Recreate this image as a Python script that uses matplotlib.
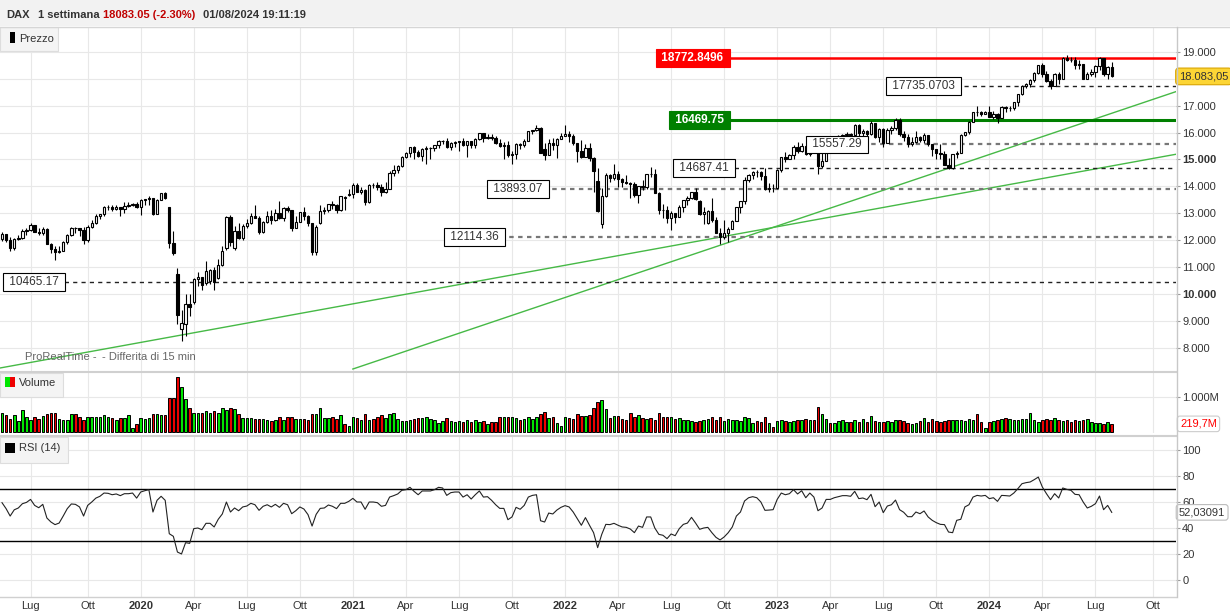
import numpy as np
import matplotlib
matplotlib.use("Agg")
import matplotlib.pyplot as plt
from matplotlib.patches import Rectangle
from matplotlib.lines import Line2D

plt.rcParams["font.family"] = ["Liberation Sans", "DejaVu Sans"]

# --- Data: DAX weekly bars, first bar = week starting Mon 13 May 2019 ---
FIRST_MONDAY = np.datetime64("2019-05-13")

opens = [
    12059, 12238, 12011, 11727, 12045, 12096, 12340, 12399, 12568, 12323,
    12260, 12419, 11872, 11693, 11563, 11612, 11939, 12191, 12469, 12468,
    12381, 12013, 12512, 12634, 12895, 12961, 13229, 13242, 13164, 13236,
    13167, 13283, 13319, 13337, 13219, 13483, 13526, 13577, 12982, 13514,
    13745, 13230, 11900, 10740, 8700, 8900, 9633, 9700, 10565, 10626,
    10400, 10500, 10904, 10600, 11074, 11700, 12848, 11700, 12331, 12089,
    12528, 12633, 12920, 12838, 12313, 12675, 12901, 12765, 13033, 12843,
    13203, 13116, 12469, 12689, 13051, 12909, 12646, 11556, 12650, 13077,
    13137, 13335, 13298, 13114, 13600, 13700, 13719, 14050, 13788, 13874,
    13433, 14057, 14050, 13993, 13786, 13921, 14502, 14621, 14749, 15107,
    15234, 15460, 15280, 15136, 15400, 15417, 15438, 15520, 15693, 15693,
    15448, 15608, 15650, 15688, 15540, 15670, 15544, 15761, 15977, 15808,
    15852, 15781, 15609, 15490, 15531, 15156, 15206, 15587, 15543, 15688,
    16054, 16094, 16160, 15400, 15169, 15623, 15532, 15756, 15885, 15948,
    15883, 15603, 15318, 15100, 15425, 15043, 14200, 12600, 13628, 14413,
    14306, 14446, 14284, 14163, 14143, 14098, 13675, 14027, 13982, 14462,
    14460, 13762, 13127, 13118, 12813, 13015, 12864, 13254, 13484, 13574,
    13795, 13450, 12971, 12640, 13088, 12741, 12284, 12114, 12273, 12438,
    12731, 13243, 13460, 14225, 14432, 14541, 14529, 14371, 13894, 13941,
    13924, 14610, 15087, 15034, 15150, 15476, 15307, 15482, 15210, 15578,
    15250, 14768, 14957, 15629, 15598, 15808, 15882, 15922, 15961, 15914,
    16275, 15984, 16051, 15950, 16358, 15830, 16148, 15603, 16106, 16177,
    16470, 15952, 15832, 15575, 15632, 15840, 15740, 15894, 15557, 15387,
    15230, 15187, 14798, 14688, 15189, 15234, 15919, 16029, 16398, 16759,
    16751, 16706, 16752, 16594, 16705, 16555, 16961, 16918, 16927, 17117,
    17419, 17735, 17815, 17936, 18206, 18492, 18175, 17930, 17737, 18161,
    18001, 18773, 18704, 18693, 18498, 18557, 18002, 18164, 18235, 18475,
    18748, 18172, 18418,
]
highs = [
    12300, 12242, 12110, 12080, 12180, 12410, 12440, 12630, 12580, 12440,
    12480, 12440, 11900, 11800, 11790, 11990, 12220, 12480, 12480, 12470,
    12490, 12560, 12750, 12960, 12990, 13290, 13300, 13320, 13300, 13240,
    13420, 13430, 13380, 13420, 13520, 13530, 13640, 13580, 13530, 13760,
    13800, 13230, 12340, 10980, 9400, 10000, 10010, 10610, 10820, 10650,
    11230, 10950, 11000, 11300, 11780, 12910, 12950, 12530, 12650, 12600,
    12810, 13010, 13310, 12890, 12720, 13080, 13110, 13150, 13460, 13240,
    13290, 13120, 12900, 13060, 13250, 12940, 12650, 12560, 13300, 13230,
    13360, 13460, 13360, 13650, 13640, 13900, 14140, 14130, 13990, 13900,
    14100, 14120, 14170, 14100, 14160, 14570, 14800, 14790, 15130, 15270,
    15470, 15500, 15360, 15410, 15500, 15460, 15530, 15730, 15740, 15800,
    15650, 15700, 15700, 15810, 15700, 15680, 15810, 15980, 15990, 15950,
    15950, 15880, 15750, 15650, 15680, 15300, 15600, 15630, 15760, 16070,
    16100, 16290, 16200, 15600, 15760, 15800, 15780, 15980, 16290, 16050,
    15960, 15620, 15740, 15560, 15600, 15080, 14700, 13940, 14500, 14480,
    14820, 14560, 14300, 14430, 14150, 14180, 14030, 14250, 14480, 14710,
    14660, 13780, 13340, 13280, 13100, 13030, 13320, 13500, 13660, 13800,
    13950, 13480, 13250, 13140, 13560, 12850, 12470, 12740, 12500, 12770,
    13250, 13460, 14340, 14450, 14560, 14600, 14560, 14680, 14140, 14100,
    14650, 15100, 15270, 15190, 15530, 15660, 15600, 15550, 15620, 15710,
    15300, 15260, 15660, 15720, 15830, 15920, 15930, 16010, 16000, 16330,
    16300, 16120, 16110, 16430, 16360, 16160, 16170, 16160, 16230, 16530,
    16530, 16060, 15950, 15830, 16040, 15880, 15990, 15900, 15580, 15390,
    15580, 15320, 15050, 15200, 15300, 15960, 16030, 16420, 16770, 17000,
    16800, 16800, 16970, 16800, 16730, 16970, 17000, 17000, 17150, 17440,
    17750, 17840, 18000, 18230, 18500, 18570, 18300, 18000, 18200, 18240,
    18790, 18890, 18800, 18790, 18680, 18560, 18230, 18360, 18510, 18790,
    18770, 18460, 18600,
]
lows = [
    11958, 11954, 11620, 11656, 12010, 12060, 12200, 12330, 12300, 12190,
    12210, 11850, 11520, 11266, 11540, 11600, 11850, 12150, 12280, 12150,
    11860, 11930, 12450, 12600, 12800, 12900, 13120, 13080, 13140, 12900,
    13020, 13220, 13270, 13200, 12950, 13320, 13300, 12950, 12960, 13480,
    13530, 11720, 11450, 8900, 8255, 8440, 9200, 9650, 10300, 10160,
    10350, 10380, 10160, 10580, 11050, 11650, 11800, 11650, 12060, 12000,
    12450, 12600, 12830, 12250, 12260, 12640, 12620, 12730, 12800, 12720,
    13050, 12340, 12450, 12680, 12750, 12530, 11450, 11450, 12620, 12960,
    13040, 13180, 13030, 13100, 13140, 13660, 13570, 13780, 13710, 13310,
    13400, 13940, 13870, 13660, 13760, 13900, 14400, 14500, 14710, 15070,
    15100, 15000, 15100, 14960, 14820, 15030, 15330, 15420, 15580, 15430,
    15350, 15450, 15310, 15500, 15080, 15420, 15440, 15710, 15650, 15770,
    15710, 15560, 15450, 15030, 15080, 14820, 15010, 15400, 15470, 15680,
    15950, 16040, 15250, 14980, 15150, 15360, 15060, 15750, 15880, 15650,
    15530, 14900, 15050, 15080, 14950, 13810, 13050, 12440, 13600, 14150,
    14250, 13970, 13980, 14080, 13570, 13620, 13380, 13870, 13920, 14340,
    13740, 12960, 12840, 12660, 12390, 12630, 12850, 13050, 13300, 13520,
    13490, 12950, 12620, 12600, 12680, 12270, 11862, 12050, 11940, 12430,
    12720, 13030, 13360, 14170, 14280, 14340, 14250, 13870, 13790, 13790,
    13900, 14540, 14900, 15000, 15000, 15250, 15280, 15180, 15140, 15400,
    14460, 14690, 14950, 15500, 15590, 15750, 15710, 15630, 15800, 15860,
    15710, 15630, 15870, 15900, 15810, 15660, 15450, 15600, 15960, 16100,
    15860, 15700, 15470, 15510, 15610, 15640, 15600, 15510, 15120, 15000,
    15030, 14780, 14630, 14650, 15040, 15230, 15860, 15960, 16390, 16600,
    16620, 16690, 16560, 16500, 16350, 16540, 16780, 16800, 16830, 17000,
    17380, 17660, 17700, 17880, 18180, 18050, 17890, 17630, 17720, 17800,
    18000, 18640, 18600, 18350, 18340, 17990, 18000, 18100, 18060, 18330,
    18100, 18000, 18050,
]
closes = [
    12238, 12011, 11727, 12045, 12096, 12340, 12399, 12568, 12323, 12260,
    12419, 11872, 11693, 11563, 11612, 11939, 12191, 12469, 12468, 12381,
    12013, 12512, 12634, 12895, 12961, 13229, 13242, 13164, 13236, 13167,
    13283, 13319, 13337, 13219, 13483, 13526, 13577, 12982, 13514, 13745,
    13579, 11890, 11542, 9232, 8929, 9633, 9525, 10565, 10626, 10336,
    10862, 10904, 10465, 11074, 11587, 12848, 11949, 12331, 12089, 12528,
    12633, 12920, 12838, 12313, 12675, 12901, 12765, 13033, 12843, 13203,
    13116, 12469, 12689, 13051, 12909, 12646, 11556, 12480, 13077, 13137,
    13335, 13298, 13114, 13631, 13587, 13719, 14050, 13788, 13874, 13433,
    14057, 14050, 13993, 13786, 13921, 14502, 14621, 14749, 15107, 15234,
    15460, 15280, 15136, 15400, 15417, 15438, 15520, 15693, 15693, 15448,
    15608, 15650, 15688, 15540, 15670, 15544, 15761, 15977, 15808, 15852,
    15781, 15609, 15490, 15531, 15156, 15206, 15587, 15543, 15688, 16054,
    16094, 16160, 15257, 15169, 15623, 15532, 15756, 15885, 15948, 15883,
    15603, 15318, 15100, 15425, 15043, 14567, 13095, 13628, 14413, 14306,
    14446, 14284, 14163, 14143, 14098, 13675, 14027, 13982, 14462, 14460,
    13762, 13127, 13118, 12813, 13015, 12864, 13254, 13484, 13574, 13795,
    13544, 12971, 13050, 13088, 12741, 12284, 12114, 12273, 12438, 12731,
    13243, 13460, 14225, 14432, 14541, 14529, 14371, 13894, 13941, 13924,
    14610, 15087, 15034, 15150, 15476, 15307, 15482, 15210, 15578, 15428,
    14768, 14957, 15629, 15598, 15808, 15882, 15922, 15961, 15914, 16275,
    15984, 16051, 15950, 16358, 15830, 16148, 15603, 16106, 16177, 16470,
    15952, 15832, 15575, 15632, 15840, 15740, 15894, 15557, 15387, 15230,
    15187, 14798, 14688, 15189, 15234, 15919, 16029, 16398, 16759, 16751,
    16706, 16752, 16594, 16705, 16555, 16961, 16918, 16927, 17117, 17419,
    17735, 17815, 17936, 18206, 18492, 18175, 17930, 17737, 18161, 18001,
    18773, 18704, 18693, 18498, 18557, 18002, 18164, 18235, 18475, 18748,
    18172, 18418, 18083,
]
# weekly volume, millions
volumes = [
    544, 466, 369, 466, 291, 631, 427, 340, 427, 369,
    437, 495, 544, 544, 369, 340, 340, 495, 495, 408,
    340, 427, 427, 408, 427, 485, 427, 398, 340, 398,
    398, 466, 107, 204, 398, 369, 398, 495, 495, 466,
    466, 951, 951, 1563, 1272, 922, 689, 534, 534, 544,
    583, 544, 602, 544, 689, 631, 689, 660, 495, 398,
    398, 398, 369, 369, 369, 340, 291, 320, 427, 340,
    427, 427, 369, 369, 350, 340, 515, 495, 689, 398,
    398, 427, 369, 485, 223, 146, 427, 398, 340, 515,
    340, 369, 427, 476, 398, 495, 544, 369, 291, 291,
    320, 350, 379, 379, 408, 350, 320, 233, 291, 379,
    291, 262, 291, 262, 320, 262, 320, 262, 291, 204,
    262, 262, 408, 408, 408, 408, 379, 320, 350, 408,
    350, 408, 495, 553, 379, 408, 233, 146, 408, 379,
    350, 495, 437, 437, 466, 689, 835, 893, 660, 379,
    437, 437, 350, 320, 524, 408, 466, 379, 350, 379,
    320, 524, 408, 408, 408, 350, 379, 320, 320, 291,
    262, 291, 320, 350, 408, 320, 408, 291, 350, 320,
    320, 291, 408, 379, 233, 291, 262, 408, 233, 117,
    291, 320, 291, 262, 291, 320, 320, 350, 320, 320,
    699, 495, 350, 233, 233, 291, 320, 262, 262, 320,
    262, 350, 262, 437, 291, 262, 262, 291, 262, 320,
    320, 291, 233, 204, 233, 291, 379, 262, 350, 291,
    262, 291, 320, 320, 320, 320, 291, 350, 320, 495,
    262, 87, 262, 291, 320, 350, 379, 350, 320, 320,
    350, 350, 524, 320, 262, 320, 350, 320, 379, 320,
    291, 320, 262, 320, 291, 320, 350, 262, 233, 233,
    204, 262, 219.7,
]
rsi14 = [
    59.5, 54.9, 49.2, 54.0, 55.4, 58.7, 59.7, 62.0, 57.4, 55.6,
    58.2, 47.7, 44.6, 42.6, 43.8, 49.2, 54.9, 58.5, 58.2, 56.2,
    49.2, 57.4, 60.0, 63.0, 64.4, 66.9, 66.7, 65.6, 66.2, 64.9,
    66.4, 66.4, 66.9, 63.0, 67.7, 68.7, 69.5, 52.3, 61.3, 64.4,
    61.3, 35.6, 33.6, 21.5, 20.0, 28.7, 28.2, 39.5, 40.0, 38.7,
    43.6, 43.6, 40.8, 46.7, 50.8, 60.0, 52.3, 55.4, 53.3, 56.2,
    56.9, 59.0, 57.9, 53.6, 56.7, 57.9, 56.2, 58.2, 55.9, 59.0,
    57.9, 51.0, 53.3, 56.2, 54.6, 50.3, 41.5, 50.5, 55.1, 55.4,
    57.7, 56.7, 54.9, 59.0, 59.0, 60.5, 62.8, 60.0, 60.0, 54.4,
    60.0, 60.0, 59.5, 56.7, 57.4, 63.8, 64.9, 66.2, 69.0, 69.5,
    71.3, 68.2, 65.6, 68.5, 68.5, 68.5, 69.5, 71.3, 70.8, 65.1,
    67.2, 67.7, 67.7, 63.8, 65.6, 62.3, 65.6, 68.5, 63.8, 64.1,
    61.3, 57.9, 55.1, 55.1, 46.4, 48.5, 55.9, 54.4, 57.4, 63.8,
    65.1, 65.6, 45.6, 44.6, 51.5, 50.8, 53.8, 55.9, 57.2, 56.2,
    52.3, 47.2, 42.1, 48.0, 42.1, 36.4, 24.9, 35.1, 42.8, 42.6,
    43.6, 42.1, 40.8, 40.5, 39.2, 36.4, 41.5, 40.5, 48.5, 48.5,
    40.0, 35.1, 34.4, 31.8, 35.4, 34.1, 39.5, 42.8, 43.8, 48.2,
    43.8, 39.0, 40.0, 40.5, 36.4, 32.8, 30.8, 33.1, 36.4, 40.8,
    49.2, 52.3, 60.8, 63.3, 64.1, 63.3, 60.0, 53.6, 53.8, 54.1,
    62.0, 66.9, 65.6, 66.4, 69.5, 66.2, 68.7, 63.3, 66.9, 63.8,
    53.3, 55.4, 62.0, 62.0, 63.3, 64.1, 64.9, 64.9, 64.4, 68.2,
    62.6, 63.1, 61.8, 65.9, 56.4, 60.0, 51.8, 56.9, 57.9, 61.5,
    54.1, 52.1, 48.7, 48.7, 52.3, 51.0, 53.1, 48.5, 45.9, 44.1,
    42.8, 42.6, 36.9, 36.4, 45.9, 46.7, 56.2, 57.9, 63.8, 65.1,
    64.6, 65.1, 62.6, 63.3, 60.5, 65.1, 64.9, 64.6, 66.9, 70.3,
    74.1, 74.9, 75.4, 77.2, 79.2, 71.5, 66.4, 61.8, 66.4, 63.1,
    70.8, 69.7, 69.0, 65.9, 65.6, 60.0, 55.4, 56.7, 58.7, 64.6,
    54.1, 57.4, 52.03,
]

# horizontal levels with their tags
level_values = [18772.8496, 17735.0703, 16469.75, 15557.29, 14687.41, 13893.07, 12114.36, 10465.17]
level_tags = ["18772.8496", "17735.0703", "16469.75", "15557.29", "14687.41", "13893.07", "12114.36", "10465.17"]
level_kinds = ["red", "black", "green", "grey", "black", "grey", "grey", "black"]
level_tag_week = [160.9, 217.5, 164.1, 197.9, 165.1, 119.7, 109.0, 1.0]

# two trend lines, (week, price) anchors
trend_weeks = [[-0.5, 287.7], [86.0, 287.7]]
trend_prices = [[7263, 15193], [7226, 17516]]

header_parts = [("DAX", "#333333"), ("1 settimana", "#333333"),
                ("18083.05 (-2.30%)", "#c00000"), ("01/08/2024 19:11:19", "#333333")]
header_x = [6, 38, 103, 203]

price_ticks = list(range(8000, 19001, 1000))
rsi_ticks = [0, 20, 40, 60, 80, 100]

# --- Layout (pixels) ---
W, H = 1230, 615
PLOT_R = 1176
XMIN, XMAX = -0.49, 287.75


def fx(px):
    return px / W


def fy(py):
    return 1 - py / H


fig = plt.figure(figsize=(W / 100, H / 100), dpi=100)
fig.patch.set_facecolor("white")


def pane(top, bottom):
    return fig.add_axes([0, fy(bottom), fx(PLOT_R), (bottom - top) / H])


ax_p = pane(27, 371)
ax_v = pane(372, 433)
ax_r = pane(436, 597)

# month ticks: first weekly bar of Jan/Apr/Jul/Oct
tick_months = ["2019-07", "2019-10"] + [f"{y}-{m:02d}" for y in range(2020, 2025) for m in (1, 4, 7, 10)]
tick_pos = [np.ceil((np.datetime64(m + "-01") - FIRST_MONDAY).astype(int) / 7) for m in tick_months]
month_name = {1: None, 4: "Apr", 7: "Lug", 10: "Ott"}
tick_lab = []
for m in tick_months:
    y, mm = m.split("-")
    tick_lab.append(month_name[int(mm)] or y)


def style(ax, yticks, ylabels, ylim):
    ax.set_xlim(XMIN, XMAX)
    ax.set_ylim(*ylim)
    for s in ax.spines.values():
        s.set_visible(False)
    ax.yaxis.tick_right()
    ax.set_yticks(yticks, ylabels)
    ax.set_xticks(tick_pos)
    ax.tick_params(axis="y", length=3, width=0.8, color="#9a9a9a", pad=1.5,
                   labelsize=8, labelcolor="#333333")
    ax.tick_params(axis="x", length=0, labelbottom=False)
    ax.grid(True, color="#e8e8e8", lw=0.8)
    ax.set_axisbelow(True)


# the 18.000 label sits under the last-price tag, so it is left blank
price_labels = ["" if v == 18000 else f"{v // 1000}.000" for v in price_ticks]
style(ax_p, price_ticks, price_labels, (7152, 19916))
for lbl in ax_p.get_yticklabels():
    if lbl.get_text() in ("10.000", "15.000"):
        lbl.set_fontweight("bold")
style(ax_v, [1000], ["1.000M"], (-43, 1710))
style(ax_r, rsi_ticks, [str(v) for v in rsi_ticks], (-13.1, 110.8))
ax_r.set_xticks(tick_pos, tick_lab)
ax_r.tick_params(axis="x", labelbottom=True, pad=3, labelsize=8, labelcolor="#333333")
for lbl in ax_r.get_xticklabels():
    if lbl.get_text().isdigit():
        lbl.set_fontweight("bold")

# --- Candles ---
o, hi, lo, c = (np.array(a, dtype=float) for a in (opens, highs, lows, closes))
x = np.arange(len(c))
up = c >= o
ax_p.vlines(x, lo, hi, color="black", lw=0.8, zorder=3)
ax_p.bar(x[up], (c - o)[up], bottom=o[up], width=0.58, facecolor="white",
         edgecolor="black", lw=0.8, zorder=4)
ax_p.bar(x[~up], (o - c)[~up], bottom=c[~up], width=0.58, facecolor="black",
         edgecolor="black", lw=0.8, zorder=4)

# trend lines
for tw, tp in zip(trend_weeks, trend_prices):
    ax_p.plot(tw, tp, color="#46b946", lw=1, zorder=2.5)

# levels
line_style = {
    "red": dict(color="#ff0000", lw=1.8),
    "green": dict(color="#008000", lw=2.2),
    "black": dict(color="#222222", lw=1, dashes=(3, 3)),
    "grey": dict(color="#777777", lw=1.6, dashes=(2, 2)),
}
for val, tag, kind, tw in zip(level_values, level_tags, level_kinds, level_tag_week):
    ax_p.plot([tw, XMAX], [val, val], zorder=2.6, **line_style[kind])
    if kind in ("red", "green"):
        fc = "#ff0000" if kind == "red" else "#008000"
        ax_p.text(tw, val, f" {tag} ", ha="left", va="center", fontsize=8.5,
                  fontweight="bold", color="white", zorder=6,
                  bbox=dict(boxstyle="square,pad=0.25", fc=fc, ec=fc, lw=0.8))
    else:
        ax_p.text(tw, val, f" {tag} ", ha="left", va="center", fontsize=8.5,
                  color="#333333", zorder=6,
                  bbox=dict(boxstyle="square,pad=0.25", fc="white", ec="black", lw=0.8))

# last value tags on the right axis
ax_p.annotate("18.083,05", xy=(1 + 3 / PLOT_R, c[-1]), xycoords=("axes fraction", "data"),
              ha="left", va="center", fontsize=8, color="#333333", annotation_clip=False,
              zorder=7, bbox=dict(boxstyle="round,pad=0.3", fc="#fcd535", ec="#d9a400", lw=0.8))

# --- Volume ---
vol = np.array(volumes, dtype=float)
ax_v.bar(x, vol, width=0.62, color=np.where(up, "#00e600", "#ee0000"),
         edgecolor="black", lw=0.7, zorder=3)
ax_v.annotate("219,7M", xy=(1 + 4 / PLOT_R, vol[-1]), xycoords=("axes fraction", "data"),
              ha="left", va="center", fontsize=8, color="#ff0000", annotation_clip=False,
              zorder=7, bbox=dict(boxstyle="round,pad=0.25", fc="white", ec="#cccccc", lw=0.8))

# --- RSI ---
r = np.array(rsi14, dtype=float)
ax_r.plot(x, r, color="#222222", lw=0.8, zorder=3)
ax_r.axhline(70, color="black", lw=1, zorder=2.6)
ax_r.axhline(30, color="black", lw=1, zorder=2.6)
ax_r.annotate("52,03091", xy=(1 + 3 / PLOT_R, r[-1]), xycoords=("axes fraction", "data"),
              ha="left", va="center", fontsize=8, color="#333333", annotation_clip=False,
              zorder=7, bbox=dict(boxstyle="round,pad=0.25", fc="white", ec="#bbbbbb", lw=0.8))


# --- Frame, header and pane captions (pixel positioned) ---
def px_rect(x0, y0, w, h, **kw):
    fig.add_artist(Rectangle((fx(x0), fy(y0 + h)), w / W, h / H,
                             transform=fig.transFigure, **kw))


def px_line(xs, ys, **kw):
    fig.add_artist(Line2D([fx(v) for v in xs], [fy(v) for v in ys],
                          transform=fig.transFigure, **kw))


px_rect(0, 0, W, 26, fc="#f2f2f2", ec="none")
px_line([0, W], [26.5, 26.5], color="#d6d6d6", lw=1)
for (txt, col), hx in zip(header_parts, header_x):
    fig.text(fx(hx), fy(15), txt, ha="left", va="center", fontsize=8,
             fontweight="bold", color=col)

px_line([0, PLOT_R], [371.5, 371.5], color="#d0d0d0", lw=1.5)
px_line([0, PLOT_R], [435.5, 435.5], color="#d0d0d0", lw=1.5)
px_line([0, PLOT_R], [597, 597], color="#d0d0d0", lw=1)
px_line([PLOT_R + 0.5, PLOT_R + 0.5], [27, 597], color="#c8c8c8", lw=1)

# Prezzo
px_rect(0, 27, 58, 24, fc="#f4f4f4", ec="#dddddd", lw=0.8)
px_rect(10, 32, 5, 11, fc="black", ec="none")
fig.text(fx(19), fy(39), "Prezzo", ha="left", va="center", fontsize=8, color="#333333")
# Volume
px_rect(0, 373, 63, 24, fc="#f4f4f4", ec="#dddddd", lw=0.8)
px_rect(5, 377, 5, 10, fc="#00e600", ec="none")
px_rect(10, 377, 5, 10, fc="#ee0000", ec="none")
fig.text(fx(19), fy(383), "Volume", ha="left", va="center", fontsize=8, color="#333333")
# RSI
px_rect(0, 437, 68, 26, fc="#f4f4f4", ec="#dddddd", lw=0.8)
px_rect(5, 443, 10, 10, fc="black", ec="none")
fig.text(fx(19), fy(448), "RSI (14)", ha="left", va="center", fontsize=8, color="#333333")

fig.text(fx(25), fy(356.5), "ProRealTime -", ha="left", va="center", fontsize=8, color="#666666")
fig.text(fx(102), fy(356.5), "- Differita di 15 min", ha="left", va="center", fontsize=8, color="#666666")

fig.savefig("out.png", dpi=100, facecolor="white")
